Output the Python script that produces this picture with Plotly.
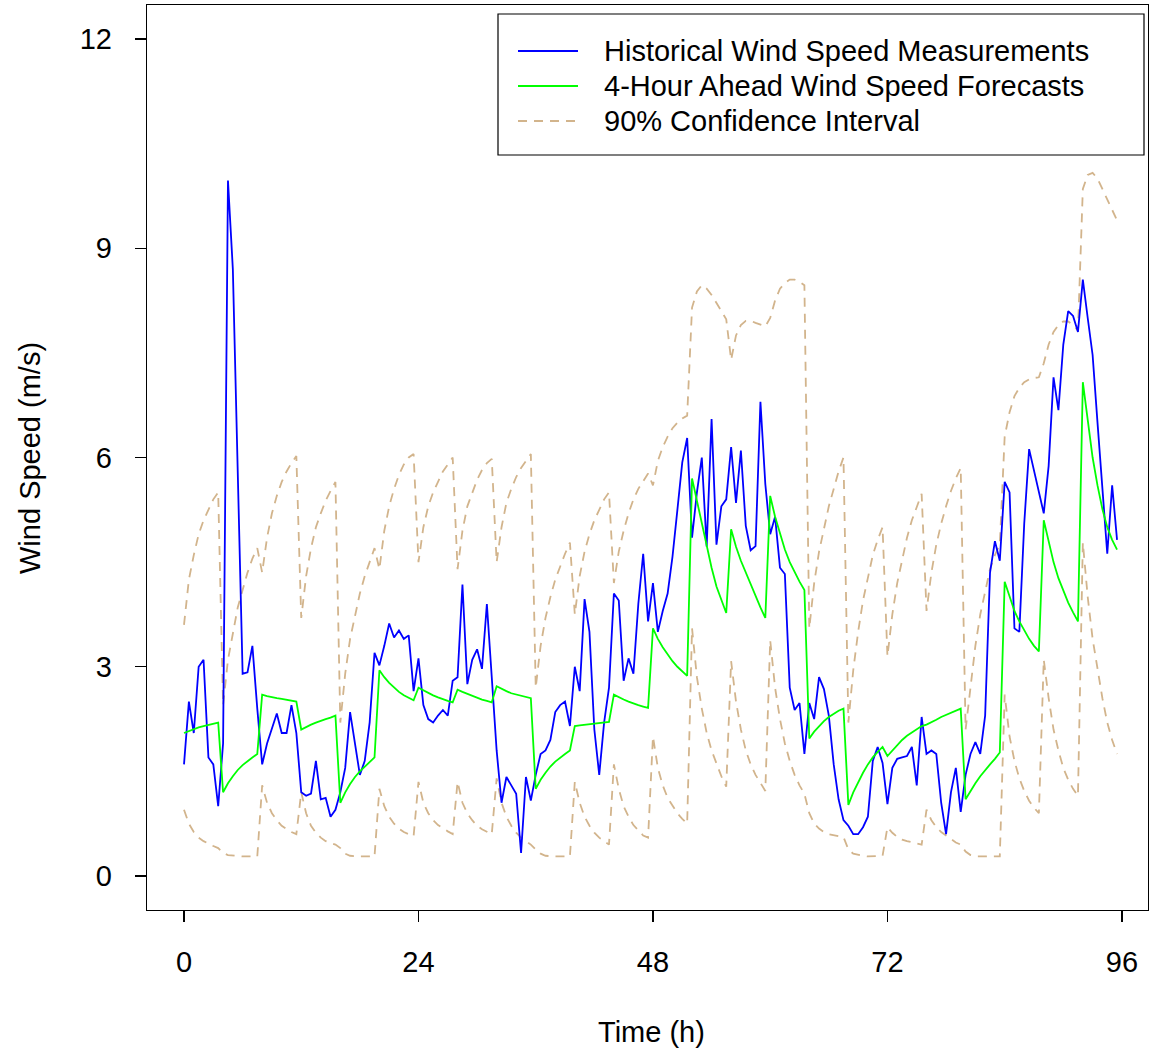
import plotly.graph_objects as go

# time grid (h), half-hour steps
hours = [i * 0.5 for i in range(192)]

measured = [
    1.6, 2.5, 2.05, 3.0, 3.1, 1.7, 1.6, 1.0,
    1.9, 9.97, 8.7, 5.8, 2.9, 2.92, 3.3, 2.4,
    1.6, 1.9, 2.1, 2.33, 2.05, 2.05, 2.45, 2.05,
    1.2, 1.15, 1.18, 1.65, 1.1, 1.12, 0.85, 0.95,
    1.2, 1.55, 2.35, 1.9, 1.45, 1.65, 2.2, 3.2,
    3.02, 3.3, 3.62, 3.42, 3.52, 3.4, 3.45, 2.65,
    3.12, 2.45, 2.25, 2.2, 2.3, 2.38, 2.3, 2.8,
    2.85, 4.18, 2.75, 3.1, 3.25, 2.97, 3.9, 2.85,
    1.8, 1.05, 1.42, 1.3, 1.18, 0.33, 1.42, 1.08,
    1.45, 1.75, 1.8, 1.95, 2.35, 2.45, 2.5, 2.15,
    3.0, 2.65, 3.97, 3.5, 2.1, 1.45, 2.2, 2.7,
    4.05, 3.95, 2.8, 3.12, 2.9, 3.9, 4.62, 3.65,
    4.2, 3.5, 3.8, 4.05, 4.58, 5.25, 5.93, 6.28,
    4.85, 5.5, 6.0, 4.72, 6.55, 4.75, 5.3, 5.4,
    6.15, 5.35, 6.1, 5.02, 4.67, 4.73, 6.8, 5.62,
    4.9, 5.15, 4.42, 4.33, 2.7, 2.38, 2.48, 1.75,
    2.48, 2.25, 2.85, 2.68, 2.3, 1.6, 1.1, 0.8,
    0.72, 0.6, 0.6, 0.7, 0.85, 1.65, 1.85, 1.62,
    1.03, 1.55, 1.68, 1.7, 1.72, 1.85, 1.3, 2.28,
    1.75, 1.8, 1.75, 1.05, 0.6, 1.2, 1.55, 0.92,
    1.45, 1.75, 1.92, 1.75, 2.3, 4.35, 4.8, 4.52,
    5.65, 5.5, 3.55, 3.5, 5.05, 6.12, 5.82, 5.5,
    5.2, 5.88, 7.15, 6.68, 7.62, 8.1, 8.03, 7.8,
    8.55, 8.0, 7.47, 6.5, 5.6, 4.62, 5.6, 4.82,
]

forecast = [
    2.05, 2.08, 2.1, 2.13, 2.15, 2.17, 2.18, 2.2,
    1.2, 1.33, 1.43, 1.52, 1.59, 1.65, 1.7, 1.75,
    2.6, 2.58, 2.56, 2.55, 2.54, 2.53, 2.52, 2.5,
    2.1, 2.14, 2.17, 2.2, 2.23, 2.25, 2.27, 2.3,
    1.05, 1.2, 1.32, 1.42, 1.5, 1.57, 1.64, 1.7,
    2.95, 2.85, 2.77, 2.7, 2.64, 2.59, 2.55, 2.52,
    2.7, 2.66, 2.62, 2.59, 2.56, 2.53, 2.51, 2.49,
    2.67, 2.64, 2.61, 2.58, 2.55, 2.53, 2.51, 2.49,
    2.72, 2.68, 2.65, 2.62, 2.6, 2.58, 2.56, 2.55,
    1.25, 1.38, 1.48, 1.57, 1.64, 1.7, 1.75, 1.8,
    2.15, 2.16, 2.17, 2.18, 2.19, 2.2, 2.2, 2.21,
    2.6, 2.56, 2.53, 2.5, 2.47, 2.45, 2.43, 2.41,
    3.55, 3.4, 3.28, 3.17, 3.08, 3.0, 2.93, 2.87,
    5.7, 5.38, 5.05, 4.72, 4.42, 4.15, 3.95, 3.77,
    4.97, 4.72, 4.52, 4.35, 4.18, 4.0, 3.85, 3.7,
    5.45, 5.15, 4.9, 4.68, 4.5, 4.35, 4.22, 4.1,
    1.97, 2.07, 2.15, 2.22, 2.28, 2.33, 2.37, 2.4,
    1.02, 1.2, 1.35, 1.48, 1.6, 1.7, 1.78, 1.85,
    1.72, 1.8, 1.88, 1.95, 2.01, 2.06, 2.11, 2.15,
    2.17, 2.2, 2.24, 2.28, 2.31, 2.34, 2.37, 2.4,
    1.1, 1.22, 1.33, 1.43, 1.52, 1.6, 1.68, 1.77,
    4.22, 4.0, 3.8, 3.65, 3.52, 3.4, 3.3, 3.22,
    5.1, 4.78, 4.5, 4.27, 4.08, 3.92, 3.78, 3.65,
    7.08, 6.5, 6.0, 5.6, 5.26, 5.0, 4.82, 4.68,
]

ci_upper = [
    3.6, 4.25, 4.6, 4.9, 5.1, 5.25, 5.4, 5.5,
    2.45, 3.1, 3.5, 3.85, 4.1, 4.35, 4.55, 4.7,
    4.35, 4.85, 5.2, 5.45, 5.65, 5.8, 5.92, 6.02,
    3.7, 4.3, 4.7, 5.0, 5.2, 5.38, 5.52, 5.65,
    2.2, 2.9, 3.4, 3.75, 4.05, 4.3, 4.5, 4.7,
    4.4, 4.95, 5.3, 5.55, 5.75, 5.9, 6.0, 6.05,
    4.5, 5.0, 5.3, 5.5, 5.65, 5.8, 5.9, 6.0,
    4.4, 4.95, 5.3, 5.5, 5.68, 5.82, 5.92, 5.98,
    4.5, 5.0, 5.35, 5.55, 5.72, 5.85, 5.95, 6.05,
    2.7, 3.3, 3.7, 4.0, 4.25, 4.45, 4.62, 4.78,
    3.75, 4.3, 4.65, 4.9, 5.1, 5.25, 5.4, 5.5,
    4.2, 4.65, 4.95, 5.2, 5.4, 5.55, 5.67, 5.77,
    5.6, 5.95, 6.15, 6.3, 6.42, 6.5, 6.56, 6.6,
    8.15, 8.38, 8.47, 8.42, 8.33, 8.22, 8.1, 7.98,
    7.4, 7.75, 7.9, 7.96, 7.96, 7.93, 7.9, 7.88,
    8.0, 8.25, 8.42, 8.5, 8.55, 8.55, 8.52, 8.47,
    3.55, 4.2, 4.65, 5.0, 5.3, 5.55, 5.8, 6.0,
    2.2, 2.95, 3.5, 3.95, 4.3, 4.6, 4.82, 5.0,
    3.15, 3.75, 4.2, 4.55, 4.85, 5.1, 5.3, 5.48,
    3.8, 4.35, 4.75, 5.05, 5.3, 5.52, 5.7, 5.85,
    2.1, 2.75, 3.3, 3.75, 4.1, 4.4, 4.6, 4.75,
    6.3, 6.65, 6.88, 7.0, 7.08, 7.12, 7.14, 7.15,
    7.35, 7.62, 7.8, 7.9, 7.95, 7.95, 7.9, 7.82,
    9.85, 10.05, 10.08, 10.0, 9.85, 9.7, 9.55, 9.4,
]

ci_lower = [
    0.95, 0.75, 0.63, 0.55, 0.5, 0.46, 0.43, 0.4,
    0.33, 0.3, 0.29, 0.28, 0.28, 0.28, 0.28, 0.28,
    1.3, 1.05, 0.9, 0.8, 0.72, 0.67, 0.63, 0.6,
    1.2, 0.9, 0.72, 0.62, 0.55, 0.5, 0.47, 0.45,
    0.4, 0.32, 0.29, 0.28, 0.28, 0.28, 0.28, 0.28,
    1.25, 1.0, 0.85, 0.75, 0.68, 0.63, 0.6, 0.57,
    1.35, 1.05, 0.9, 0.8, 0.73, 0.68, 0.64, 0.6,
    1.35, 1.05, 0.9, 0.8, 0.72, 0.67, 0.63, 0.6,
    1.4, 1.05, 0.85, 0.72, 0.62, 0.55, 0.5, 0.45,
    0.38, 0.32, 0.29, 0.28, 0.28, 0.28, 0.28, 0.28,
    1.35, 1.05, 0.85, 0.72, 0.62, 0.55, 0.5, 0.45,
    1.6, 1.25, 1.0, 0.85, 0.73, 0.65, 0.58, 0.55,
    2.0, 1.55, 1.3, 1.12, 1.0, 0.9, 0.82, 0.75,
    3.55, 2.85, 2.4, 2.05, 1.8, 1.6, 1.43, 1.28,
    3.08, 2.5, 2.1, 1.8, 1.6, 1.45, 1.33, 1.22,
    3.38, 2.7, 2.25, 1.9, 1.65, 1.45, 1.3, 1.18,
    0.9, 0.75, 0.68, 0.63, 0.6, 0.58, 0.57, 0.56,
    0.38, 0.32, 0.3, 0.29, 0.28, 0.28, 0.28, 0.29,
    0.7, 0.62, 0.56, 0.52, 0.5, 0.48, 0.46, 0.45,
    0.95, 0.8, 0.7, 0.63, 0.58, 0.53, 0.48, 0.45,
    0.35, 0.3, 0.28, 0.28, 0.28, 0.28, 0.28, 0.28,
    2.6, 2.0, 1.65, 1.4, 1.22, 1.08, 0.98, 0.9,
    3.1, 2.55, 2.1, 1.8, 1.55, 1.38, 1.25, 1.15,
    4.78, 4.0, 3.4, 2.95, 2.55, 2.2, 1.95, 1.75,
]

x_ticks = [0, 24, 48, 72, 96]
y_ticks = [0, 3, 6, 9, 12]
legend_labels = [
    "Historical Wind Speed Measurements",
    "4-Hour Ahead Wind Speed Forecasts",
    "90% Confidence Interval",
]

BLUE = "#0000FF"
GREEN = "#00FF00"
TAN = "#D2B48C"
FONT = "Liberation Sans, Arial, sans-serif"
DASH = "9px,7px"
FS = 29

fig = go.Figure()
fig.add_trace(go.Scatter(x=hours, y=ci_upper, mode="lines",
                         line=dict(color=TAN, width=1.8, dash=DASH), showlegend=False))
fig.add_trace(go.Scatter(x=hours, y=ci_lower, mode="lines",
                         line=dict(color=TAN, width=1.8, dash=DASH), showlegend=False))
fig.add_trace(go.Scatter(x=hours, y=measured, mode="lines",
                         line=dict(color=BLUE, width=1.8), showlegend=False))
fig.add_trace(go.Scatter(x=hours, y=forecast, mode="lines",
                         line=dict(color=GREEN, width=1.8), showlegend=False))

FIG_W, FIG_H = 1150, 1052
# plot area in page pixels: x 147..1148, y 5..910
L, R, T, B = 147, 1148, 5, 910
W, H = R - L, B - T


def px(xp):
    return (xp - L) / W


def py(yp):
    return (B - yp) / H


shapes = []
annotations = []
# legend box
shapes.append(dict(type="rect", xref="paper", yref="paper",
                   x0=px(498), x1=px(1144), y0=py(155), y1=py(14),
                   line=dict(color="black", width=1.2), fillcolor="white", layer="above"))
leg_styles = [(BLUE, "solid"), (GREEN, "solid"), (TAN, DASH)]
leg_y = [51, 86, 121]
for lab, (col, dsh), yy in zip(legend_labels, leg_styles, leg_y):
    shapes.append(dict(type="line", xref="paper", yref="paper",
                       x0=px(518), x1=px(578), y0=py(yy), y1=py(yy),
                       line=dict(color=col, width=1.8, dash=dsh), layer="above"))
    annotations.append(dict(text=lab, xref="paper", yref="paper",
                            x=px(602), y=py(yy), xanchor="left", yanchor="middle",
                            showarrow=False, font=dict(size=FS, color="black", family=FONT)))

annotations.append(dict(text="Time (h)", xref="paper", yref="paper",
                        x=px(651), y=py(1032), xanchor="center", yanchor="middle",
                        showarrow=False, font=dict(size=FS, color="black", family=FONT)))
annotations.append(dict(text="Wind Speed (m/s)", xref="paper", yref="paper",
                        x=px(30), y=py(458), xanchor="center", yanchor="middle",
                        textangle=-90, showarrow=False,
                        font=dict(size=FS, color="black", family=FONT)))

# axis ranges from the reference pixel scale (0 h at x=184, 9.77 px/h; 0 at y=876, 69.75 px/unit)
x0_val = (L - 184) / 9.77
x1_val = (R - 184) / 9.77
y0_val = (876 - B) / 69.75
y1_val = (876 - T) / 69.75

fig.update_layout(
    width=FIG_W, height=FIG_H,
    margin=dict(l=L, r=FIG_W - R, t=T, b=FIG_H - B, pad=0),
    paper_bgcolor="white", plot_bgcolor="white",
    font=dict(family=FONT, size=FS, color="black"),
    shapes=shapes, annotations=annotations,
    xaxis=dict(range=[x0_val, x1_val], tickmode="array", tickvals=x_ticks,
               ticktext=[str(v) for v in x_ticks],
               showgrid=False, zeroline=False, showline=True, mirror=True,
               linecolor="black", linewidth=1.2, ticks="outside", ticklen=11,
               tickwidth=1.2, tickcolor="black", ticklabelstandoff=15,
               tickfont=dict(size=FS, family=FONT)),
    yaxis=dict(range=[y0_val, y1_val], tickmode="array", tickvals=y_ticks,
               ticktext=[str(v) for v in y_ticks],
               showgrid=False, zeroline=False, showline=True, mirror=True,
               linecolor="black", linewidth=1.2, ticks="outside", ticklen=11,
               tickwidth=1.2, tickcolor="black", ticklabelstandoff=17,
               tickfont=dict(size=FS, family=FONT)),
    showlegend=False,
)

# remove the default page margin so the 1150x1052 figure fills the window exactly
page_fix = ("document.documentElement.style.margin='0';"
            "document.body.style.margin='0';"
            "document.body.style.overflow='hidden';")

fig.write_html("out.html", post_script=page_fix,
               config={"displayModeBar": False, "staticPlot": True})
